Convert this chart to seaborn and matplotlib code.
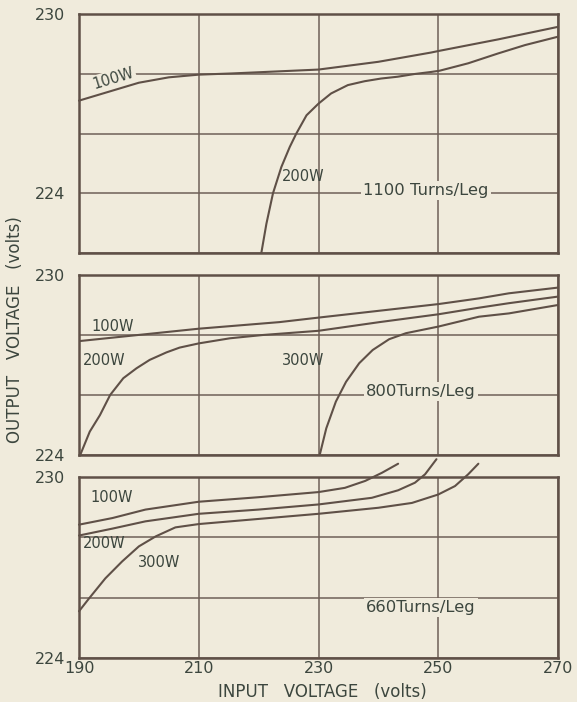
import matplotlib
matplotlib.use("Agg")
import pandas as pd
import matplotlib.pyplot as plt
import seaborn as sns

# colours of the old printed chart
bg_color = "#f0ebdc"
line_color = "#5f5047"
grid_color = "#6e6057"
text_color = "#3c463e"

# x axis (input voltage)
input_ticks = [190, 210, 230, 250, 270]

# --- 1100 Turns/Leg ---
p1_100w_x = [190, 195, 200, 205, 210, 215.5, 220, 230, 237.7, 240, 248.8, 250, 260, 270]
p1_100w_y = [227.1, 227.4, 227.7, 227.88, 227.97, 228.01, 228.05, 228.14, 228.34, 228.4, 228.71, 228.76, 229.15, 229.57]
p1_200w_x = [220.45, 221.3, 222.4, 223.8, 225.2, 226.3, 228.0, 230.0, 232.1, 234.9, 237.7, 240.45,
             243.2, 246.0, 248.8, 250.2, 255, 260, 264.5, 270]
p1_200w_y = [222.0, 222.98, 224.0, 224.88, 225.55, 226.0, 226.61, 227.0, 227.34, 227.62, 227.75, 227.84,
             227.9, 227.99, 228.06, 228.1, 228.35, 228.68, 228.96, 229.24]

# --- 800 Turns/Leg ---
p2_100w_x = [190.2, 210, 223.5, 230, 250, 256.8, 261.8, 270]
p2_100w_y = [227.8, 228.21, 228.43, 228.58, 229.03, 229.22, 229.39, 229.58]
p2_200w_x = [190.2, 191.8, 193.5, 195.2, 197.4, 199.6, 201.8, 204.6, 206.8, 210, 215.2, 220.7, 230,
             240.2, 250, 256.8, 261.8, 270]
p2_200w_y = [224.0, 224.78, 225.33, 226.0, 226.56, 226.89, 227.17, 227.42, 227.58, 227.72, 227.89, 228.0, 228.14,
             228.43, 228.69, 228.91, 229.06, 229.28]
p2_300w_x = [230.2, 231.3, 232.9, 234.6, 236.8, 239.05, 241.8, 244.6, 250, 256.8, 261.8, 270]
p2_300w_y = [224.0, 224.89, 225.78, 226.44, 227.06, 227.5, 227.86, 228.06, 228.28, 228.61, 228.72, 229.0]

# --- 660 Turns/Leg ---
p3_100w_x = [190, 195.6, 201.1, 210, 220, 230, 234.4, 237.8, 240.6, 243.3]
p3_100w_y = [228.42, 228.64, 228.92, 229.18, 229.33, 229.5, 229.64, 229.87, 230.14, 230.44]
p3_200w_x = [190, 195.6, 201.1, 210, 220, 230, 238.9, 243.3, 246.1, 247.8, 249.7]
p3_200w_y = [228.06, 228.29, 228.53, 228.78, 228.92, 229.09, 229.31, 229.56, 229.81, 230.09, 230.59]
p3_300w_x = [190, 191.7, 194.4, 197.2, 200, 202.8, 206.1, 210, 220, 230, 240, 245.6, 250, 252.8, 255, 256.7]
p3_300w_y = [225.55, 225.98, 226.64, 227.2, 227.7, 228.03, 228.33, 228.44, 228.61, 228.78, 228.98, 229.14,
             229.42, 229.7, 230.09, 230.44]

panels = [
    {"series": {"100W": (p1_100w_x, p1_100w_y), "200W": (p1_200w_x, p1_200w_y)},
     "ylim": (222, 230), "turns": "1100 Turns/Leg"},
    {"series": {"100W": (p2_100w_x, p2_100w_y), "200W": (p2_200w_x, p2_200w_y),
                "300W": (p2_300w_x, p2_300w_y)},
     "ylim": (224, 230), "turns": "800Turns/Leg"},
    {"series": {"100W": (p3_100w_x, p3_100w_y), "200W": (p3_200w_x, p3_200w_y),
                "300W": (p3_300w_x, p3_300w_y)},
     "ylim": (224, 230), "turns": "660Turns/Leg"},
]

# where the curve names sit (x, y, rotation)
labels = [
    {"100W": (192.4, 227.62, 17), "200W": (223.9, 224.57, 0), "turns": (237.5, 224.1)},
    {"100W": (192.1, 228.27, 0), "200W": (190.7, 227.16, 0), "300W": (223.9, 227.16, 0),
     "turns": (237.9, 226.11)},
    {"100W": (191.9, 229.31, 0), "200W": (190.6, 227.79, 0), "300W": (199.9, 227.18, 0),
     "turns": (237.9, 225.68)},
]

# pixel rectangles (top, bottom) of the three panels
panel_rows = [(14, 253), (275, 455), (477, 658)]
W, H = 577, 702
left_px, right_px = 79, 558

sns.set_theme(style="whitegrid", rc={
    "figure.facecolor": bg_color,
    "axes.facecolor": bg_color,
    "axes.edgecolor": line_color,
    "axes.linewidth": 1.8,
    "grid.color": grid_color,
    "grid.linewidth": 1.1,
    "text.color": text_color,
    "xtick.color": text_color,
    "ytick.color": text_color,
})
plt.rcParams["font.family"] = ["DejaVu Sans"]

fig = plt.figure(figsize=(W / 100, H / 100), dpi=100)

for i, panel in enumerate(panels):
    top, bottom = panel_rows[i]
    ax = fig.add_axes([left_px / W, 1 - bottom / H, (right_px - left_px) / W, (bottom - top) / H])

    rows = []
    for name, (xs, ys) in panel["series"].items():
        for x, y in zip(xs, ys):
            rows.append({"input": x, "output": y, "load": name})
    df = pd.DataFrame(rows)

    sns.lineplot(data=df, x="input", y="output", hue="load", units="load", estimator=None,
                 sort=True, palette=[line_color] * len(panel["series"]), linewidth=1.5,
                 legend=False, ax=ax)
    for line in ax.lines:
        line.set_clip_on(False)
        line.set_zorder(3)
        line.set_solid_joinstyle("round")

    y0, y1 = panel["ylim"]
    ax.set_xlim(190, 270)
    ax.set_ylim(y0, y1)
    ax.set_xticks(input_ticks)
    yt = list(range(y0, y1 + 1, 2))
    ax.set_yticks(yt)
    ax.set_yticklabels([str(v) if v in (224, 230) else "" for v in yt], fontsize=11.5)
    ax.tick_params(axis="y", length=0, pad=10)
    ax.tick_params(axis="x", length=0, pad=2)
    if i < 2:
        ax.set_xticklabels([])
    else:
        ax.set_xticklabels([str(v) for v in input_ticks], fontsize=11.5)
    ax.set_xlabel("")
    ax.set_ylabel("")
    for sp in ax.spines.values():
        sp.set_visible(True)
        sp.set_color(line_color)

    # curve names
    for name, pos in labels[i].items():
        if name == "turns":
            ax.text(pos[0], pos[1], panel["turns"], fontsize=11.8, ha="left", va="center",
                    zorder=2, bbox=dict(facecolor=bg_color, edgecolor="none", pad=1.5))
        else:
            kw = {}
            if i == 0 and name == "100W":
                kw["bbox"] = dict(facecolor=bg_color, edgecolor="none", pad=1)
            ax.text(pos[0], pos[1], name, fontsize=10.5, ha="left", va="center",
                    rotation=pos[2], rotation_mode="anchor", zorder=2, **kw)

fig.text(15 / W, 1 - 330 / H, "OUTPUT   VOLTAGE   (volts)", rotation=90, ha="center",
         va="center", fontsize=12, color=text_color)
fig.text(322 / W, 1 - 692 / H, "INPUT   VOLTAGE   (volts)", ha="center",
         va="center", fontsize=12, color=text_color)

fig.savefig("out.png", dpi=100, facecolor=bg_color)
